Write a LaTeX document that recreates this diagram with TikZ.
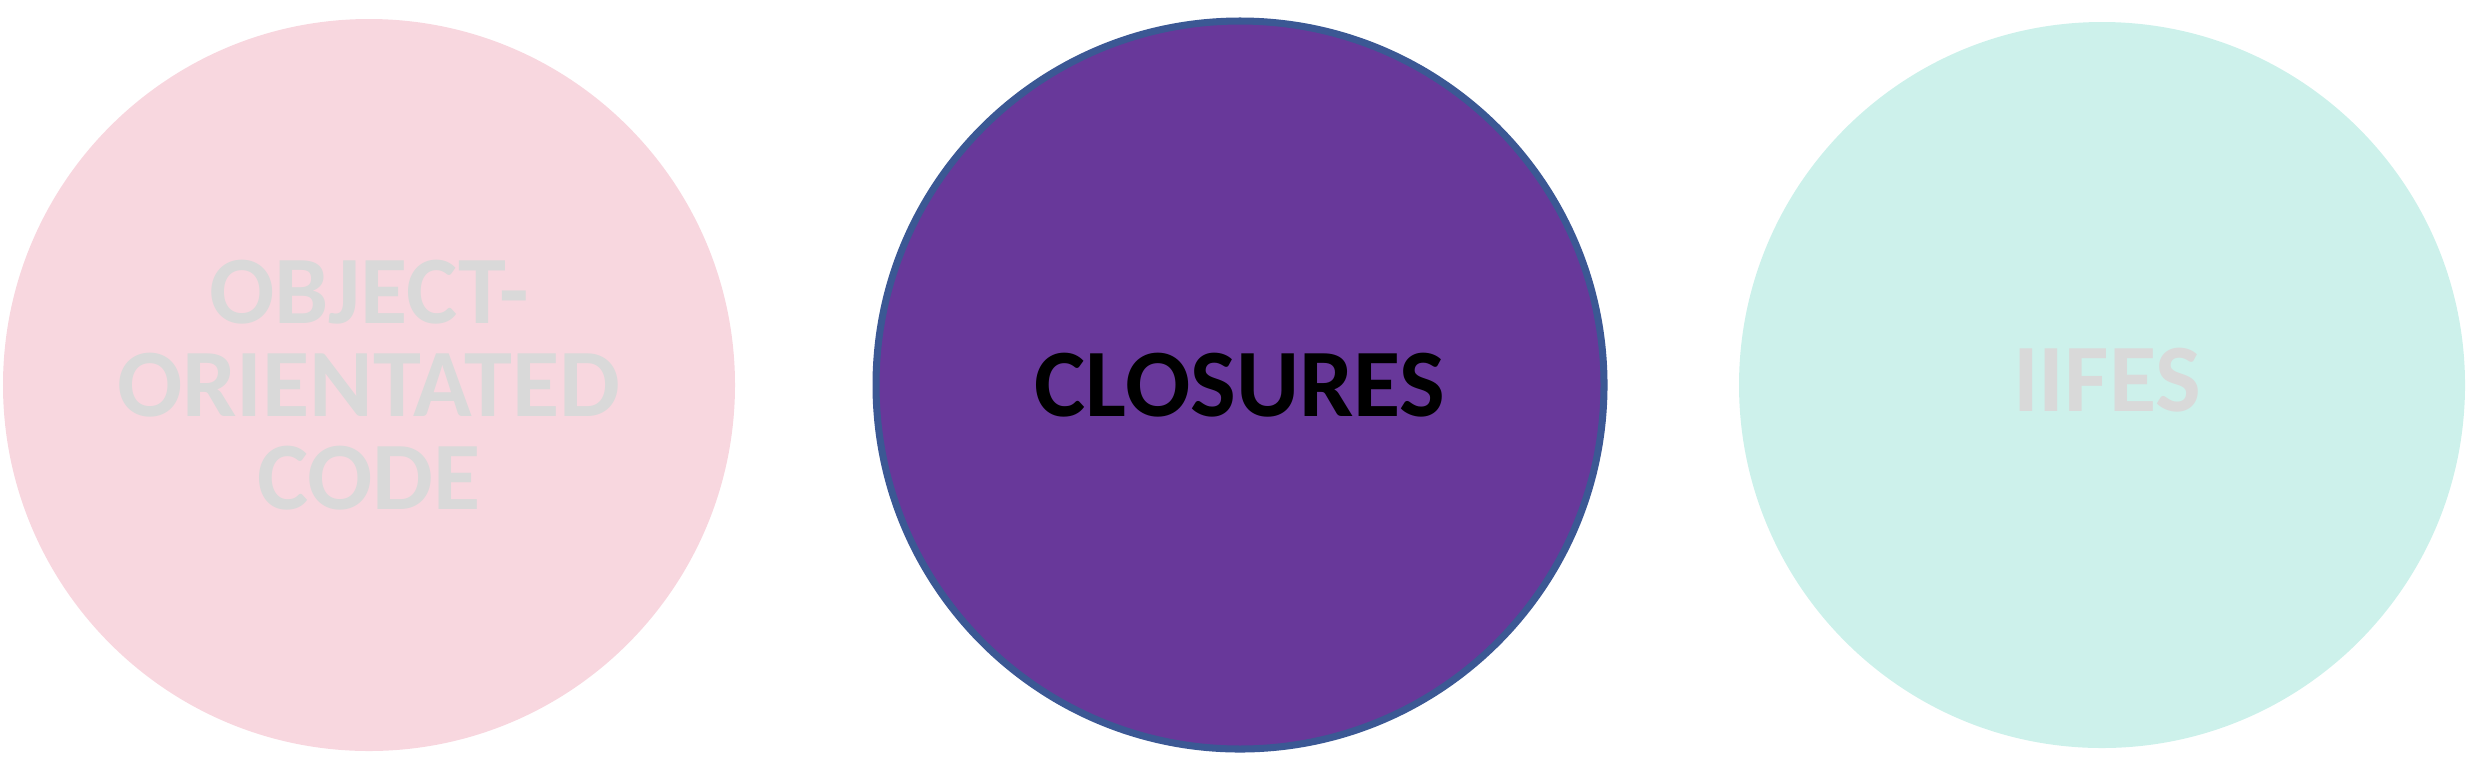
\documentclass[tikz,border=0pt]{standalone}
\usepackage{fontspec}
\setmainfont{Carlito}
\usepackage{tikz}
\usetikzlibrary{calc}
\definecolor{blushpink}{HTML}{F8D7DF}
\definecolor{closurepurple}{HTML}{68389A}
\definecolor{closureedge}{HTML}{3B5894}
\definecolor{mintgreen}{HTML}{CDF1EB}
\definecolor{fadedgrey}{HTML}{D9D9D9}
\tikzset{
    topiclabel/.style={align=center,font={\bfseries\fontsize{27.5pt}{26.5pt}\selectfont}},
}

\begin{document}
\begin{tikzpicture}
        \useasboundingbox (0,0) rectangle (24.78,7.78);
        \coordinate (oop) at (3.69,3.93);
        \coordinate (cls) at (12.40,3.93);
        \coordinate (iife) at (21.02,3.93);
        \fill[blushpink] (oop) circle (3.66);
        \draw[line width=2pt,draw=closureedge,fill=closurepurple] (cls) circle (3.64);
        \fill[mintgreen] (iife) circle (3.63);
        \node[topiclabel,text=fadedgrey] (oop text) at (oop) {OBJECT-\\ORIENTATED\\CODE};
        \node[topiclabel,text=black] (cls text) at (cls) {CLOSURES};
        \node[topiclabel,text=fadedgrey] (iife text) at ($(iife)+(0.05,0.05)$) {IIFES};
    \end{tikzpicture}
\end{document}
